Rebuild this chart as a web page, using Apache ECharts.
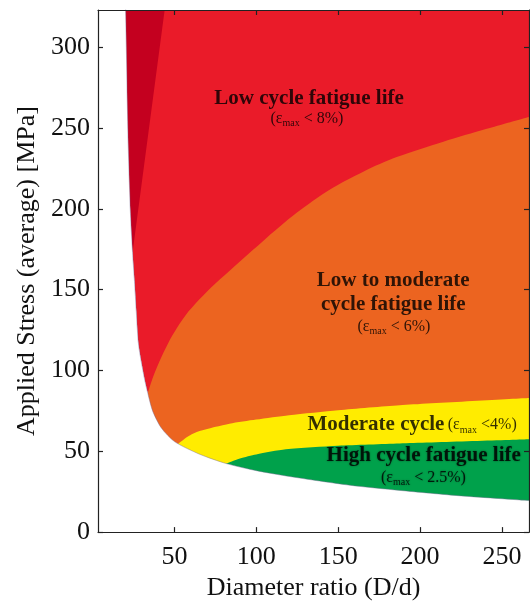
<!DOCTYPE html>
<html>
<head>
<meta charset="utf-8">
<script src="https://cdn.jsdelivr.net/npm/echarts@6/dist/echarts.min.js"></script>
<style>
  html, body { margin: 0; padding: 0; background: #fff; }
  #chart { width: 530px; height: 606px; }
</style>
</head>
<body>
<div id="chart"></div>
<script>
// Lower limit of the fatigue map (below / left of it nothing is plotted)
const lowerX = [20.0, 20.2, 21.6, 23.0, 24.4, 25.6, 26.7, 28.1, 31.6, 33.7, 36.7, 41.9, 50.0, 65.3, 81.6, 100.0, 120.3, 157.0, 187.6, 225.0, 267.0];
const lowerY = [330, 322.7, 246, 200, 173, 155, 136.3, 115.7, 95.3, 86.0, 74.8, 64.5, 56.0, 48.2, 42.4, 38.0, 34.4, 29.0, 25.8, 22.4, 19.5];

// Right edge of the darkest (very low cycle) wedge
const wedgeX = [24.4, 44.0];
const wedgeY = [173, 323];

// Boundary: low cycle (< 8%) / low-to-moderate (< 6%)
const lowModX = [33.7, 36.7, 40.8, 46.3, 51.4, 58.5, 67.7, 77.8, 104.0, 124.6, 145.0, 165.3, 185.7, 214.2, 240.7, 267.1];
const lowModY = [86.0, 95.3, 105.6, 117.2, 126.1, 136.4, 146.6, 156.4, 180.0, 197.5, 212.0, 223.0, 232.0, 241.5, 249.5, 257.0];

// Boundary: low-to-moderate / moderate (< 4%)
const modX = [51.4, 58.0, 65.3, 83.6, 99.9, 120.0, 150.0, 187.6, 267.0];
const modY = [53.9, 59.0, 62.5, 67.0, 69.6, 72.3, 75.4, 78.5, 83.0];

// Boundary: moderate / high cycle (< 2.5%)
const highX = [81.6, 90.0, 99.9, 118.0, 150.0, 187.6, 267.0];
const highY = [42.4, 45.5, 48.0, 51.2, 53.4, 54.8, 57.4];

// Tick values
const xTicks = [50, 100, 150, 200, 250];
const yTicks = [0, 50, 100, 150, 200, 250, 300];

// Region captions: [x, y, rich-text]
const captions = [
  [132.2, 268.2, '{b|Low cycle fatigue life}'],
  [130.9, 255.9, '{p|(ε}{s|max}{p| < 8%)}'],
  [183.6, 155.6, '{b|Low to moderate}'],
  [183.6, 140.9, '{b|cycle fatigue life}'],
  [184.0, 127.3, '{p|(ε}{s|max}{p| < 6%)}'],
  [195.1, 66.4, '{b|Moderate cycle} {p|(ε}{s|max}{p| <4%)}'],
  [202.2, 47.4, '{h|High cycle fatigue life}'],
  [202.0, 33.8, '{hp|(ε}{hs|max}{hp| < 2.5%)}']
];

const zip = (xs, ys) => xs.map((x, i) => [x, ys[i]]);

const SERIF = 'Liberation Serif';
const AX = '#222';

const RED = '#EA1B29';
const DARK_RED = '#C4001F';
const ORANGE = '#EC6420';
const YELLOW = '#FFEC00';
const GREEN = '#00A14B';

function area(name, data, color, origin, smooth, extra) {
  return Object.assign({
    name: name,
    type: 'line',
    data: data,
    symbol: 'none',
    smooth: smooth,
    lineStyle: { width: 0, color: color },
    areaStyle: { color: color, opacity: 1, origin: origin },
    silent: true,
    animation: false
  }, extra || {});
}

const lowerPts = zip(lowerX, lowerY);
// wedge outline: lower limit down to the tip, then straight up to the top
const wedgePts = lowerPts.slice(0, 5).concat(zip(wedgeX, wedgeY).slice(1));

const rich = {
  b: { fontFamily: SERIF, fontSize: 21, fontWeight: 'bold', color: '#000' },
  p: { fontFamily: SERIF, fontSize: 16, color: '#000', lineHeight: 20 },
  s: { fontFamily: SERIF, fontSize: 10, color: '#000', lineHeight: 10, verticalAlign: 'bottom' },
  h: { fontFamily: SERIF, fontSize: 21, fontWeight: 'bold', color: '#000',
       textShadowColor: 'rgba(0,0,0,0.55)', textShadowBlur: 2 },
  hp: { fontFamily: SERIF, fontSize: 16, color: '#000', lineHeight: 20,
        textShadowColor: 'rgba(0,0,0,0.45)', textShadowBlur: 2 },
  hs: { fontFamily: SERIF, fontSize: 10, color: '#000', lineHeight: 10, verticalAlign: 'bottom',
        textShadowColor: 'rgba(0,0,0,0.45)', textShadowBlur: 2 }
};

const baseAxis = {
  type: 'value',
  z: 10,
  splitLine: { show: false },
  axisLine: { show: true, onZero: false, lineStyle: { color: AX, width: 1.2 } },
  axisTick: { show: true, inside: true, length: 5, lineStyle: { color: AX, width: 1.2 } }
};

const chart = echarts.init(document.getElementById('chart'), null, { renderer: 'canvas' });
chart.setOption({
  animation: false,
  backgroundColor: '#fff',
  grid: { left: 98, right: 1, top: 10, bottom: 71, containLabel: false },
  xAxis: [
    Object.assign({}, baseAxis, {
      position: 'bottom', min: 3.3, max: 266.5,
      axisTick: Object.assign({}, baseAxis.axisTick, { customValues: xTicks }),
      axisLabel: { customValues: xTicks, fontFamily: SERIF, fontSize: 26, color: '#111', margin: 12 },
      name: 'Diameter ratio (D/d)', nameLocation: 'middle', nameGap: 38,
      nameTextStyle: { fontFamily: SERIF, fontSize: 26, color: '#111' }
    }),
    Object.assign({}, baseAxis, {
      position: 'top', min: 3.3, max: 266.5,
      axisTick: Object.assign({}, baseAxis.axisTick, { customValues: xTicks }),
      axisLabel: { show: false }
    })
  ],
  yAxis: [
    Object.assign({}, baseAxis, {
      position: 'left', min: 0, max: 323,
      axisTick: Object.assign({}, baseAxis.axisTick, { customValues: yTicks }),
      axisLabel: { customValues: yTicks, fontFamily: SERIF, fontSize: 26, color: '#111', margin: 8 },
      name: 'Applied Stress (average) [MPa]', nameLocation: 'middle', nameGap: 56,
      nameTextStyle: { fontFamily: SERIF, fontSize: 26, color: '#111' }
    }),
    Object.assign({}, baseAxis, {
      position: 'right', min: 0, max: 323,
      axisTick: Object.assign({}, baseAxis.axisTick, { customValues: yTicks }),
      axisLabel: { show: false }
    })
  ],
  series: [
    area('low cycle', lowerPts, RED, 'end', 0.25),
    area('very low cycle', wedgePts, DARK_RED, 'end', false),
    area('low to moderate', zip(lowModX, lowModY), ORANGE, 'start', 0.3),
    area('moderate', zip(modX, modY), YELLOW, 'start', 0.25),
    area('high cycle', zip(highX, highY), GREEN, 'start', 0.25),
    area('limit', lowerPts, '#ffffff', 'start', 0.25, {
      lineStyle: { width: 0.8, color: 'rgba(120,105,150,0.55)' }
    }),
    {
      name: 'captions',
      type: 'scatter',
      data: captions.map(c => ({ value: [c[0], c[1]], label: { formatter: c[2] } })),
      symbolSize: 0,
      z: 20,
      silent: true,
      animation: false,
      label: { show: true, position: 'inside', rich: rich }
    }
  ]
});
</script>
</body>
</html>
